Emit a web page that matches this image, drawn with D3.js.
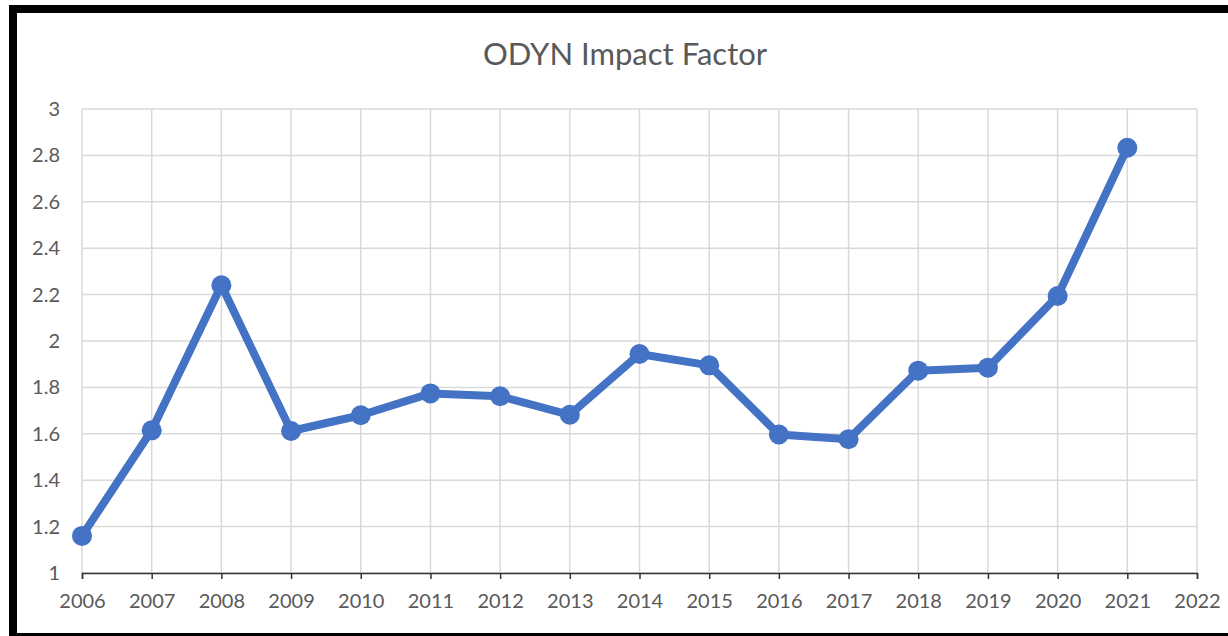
<!DOCTYPE html>
<html lang="en">
<head>
    <meta charset="UTF-8">
    <title>ODYN Impact Factor</title>
    <script src="https://d3js.org/d3.v7.min.js"></script>
    <style>
        body { margin: 0; background: #fff; }
        .tick text { font-family: Lato, "Open Sans", sans-serif; fill: #595959; }
    </style>
</head>
<body>
    <div id="chart"></div>
    <script>
        // Data
        const years = [2006, 2007, 2008, 2009, 2010, 2011, 2012, 2013, 2014, 2015, 2016, 2017, 2018, 2019, 2020, 2021];
        const impact = [1.16, 1.615, 2.24, 1.612, 1.68, 1.774, 1.762, 1.682, 1.944, 1.895, 1.597, 1.577, 1.872, 1.885, 2.194, 2.833];
        const xTicks = d3.range(2006, 2023);
        const yTicks = [1, 1.2, 1.4, 1.6, 1.8, 2, 2.2, 2.4, 2.6, 2.8, 3];

        const W = 1228, H = 636;
        const margin = {top: 109, right: 31, bottom: 63, left: 82},
              width = W - margin.left - margin.right,
              height = H - margin.top - margin.bottom;

        const svg = d3.select("#chart").append("svg")
            .attr("width", W).attr("height", H);

        // black frame (right side runs off the picture)
        svg.append("rect")
            .attr("x", 13).attr("y", 9)
            .attr("width", W + 20).attr("height", 628)
            .attr("fill", "none").attr("stroke", "#000").attr("stroke-width", 8);

        svg.append("text")
            .attr("x", 625).attr("y", 65)
            .attr("text-anchor", "middle")
            .style("font-family", "Lato, 'Open Sans', sans-serif")
            .style("font-size", "31px")
            .attr("fill", "#595959")
            .text("ODYN Impact Factor");

        const g = svg.append("g").attr("transform", `translate(${margin.left},${margin.top})`);

        const x = d3.scaleLinear().domain([2006, 2022]).range([0, width]);
        const y = d3.scaleLinear().domain([1, 3]).range([height, 0]);

        // gridlines
        g.append("g").selectAll("line").data(yTicks).join("line")
            .attr("x1", 0).attr("x2", width)
            .attr("y1", d => y(d)).attr("y2", d => y(d))
            .attr("stroke", "#d9d9d9").attr("stroke-width", 1.5);
        g.append("g").selectAll("line").data(xTicks).join("line")
            .attr("x1", d => x(d)).attr("x2", d => x(d))
            .attr("y1", 0).attr("y2", height)
            .attr("stroke", "#d9d9d9").attr("stroke-width", 1.5);

        // y labels
        const yAxis = g.append("g")
            .call(d3.axisLeft(y).tickValues(yTicks).tickSize(0).tickPadding(22).tickFormat(d3.format("~g")));
        yAxis.select(".domain").remove();
        yAxis.selectAll("text").style("font-size", "20px");

        // x axis
        const xAxis = g.append("g")
            .attr("transform", `translate(0,${height})`)
            .call(d3.axisBottom(x).tickValues(xTicks).tickSize(6).tickSizeOuter(6).tickPadding(15).tickFormat(d3.format("d")));
        xAxis.select(".domain").attr("stroke", "#333").attr("stroke-width", 1.5);
        xAxis.selectAll(".tick line").attr("stroke", "#333").attr("stroke-width", 1.5);
        xAxis.selectAll("text").style("font-size", "20px");

        const data = years.map((yr, i) => ({yr, v: impact[i]}));

        const line = d3.line().x(d => x(d.yr)).y(d => y(d.v));
        g.append("path").datum(data)
            .attr("d", line)
            .attr("fill", "none")
            .attr("stroke", "#4472c4")
            .attr("stroke-width", 8)
            .attr("stroke-linejoin", "round");

        g.append("g").selectAll("circle").data(data).join("circle")
            .attr("cx", d => x(d.yr)).attr("cy", d => y(d.v))
            .attr("r", 10)
            .attr("fill", "#4472c4");
    </script>
</body>
</html>
